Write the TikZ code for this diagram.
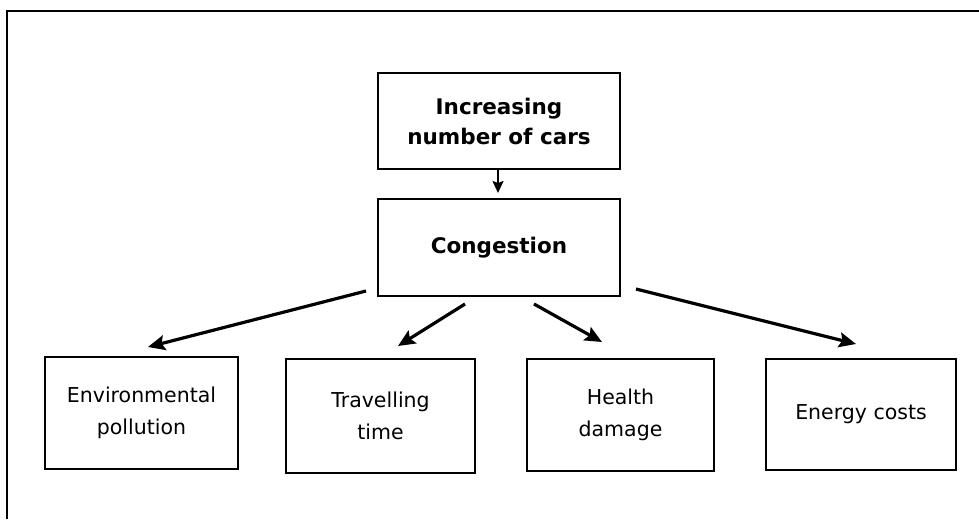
\documentclass[tikz,border=0pt]{standalone}
\usepackage{fontspec}
\setmainfont{DejaVu Sans}
\usetikzlibrary{arrows.meta}
\begin{document}
\begin{tikzpicture}[x=1pt,y=-1pt,
  box/.style={draw=black,line width=2pt,rectangle,inner sep=0pt,align=center,fill=white},
  toptext/.style={font=\fontsize{21.5}{30}\selectfont\bfseries},
  bottext/.style={font=\fontsize{20.5}{32}\selectfont},
  bigarrow/.style={line width=3.2pt,-{Stealth[length=17pt,width=15pt,inset=3pt]}},
  smallarrow/.style={line width=2pt,-{Stealth[length=12pt,width=11pt,inset=2pt]}}]
\useasboundingbox (0,0) rectangle (979,519);
\draw[line width=2.8pt] (7,519) -- (7,11) -- (979,11);
\node[box,toptext,minimum width=242pt,minimum height=96pt] (top) at (499,121) {Increasing\\number of cars};
\node[box,toptext,minimum width=242pt,minimum height=97pt] (cong) at (499,247.5) {Congestion};
\node[box,bottext,minimum width=193pt,minimum height=112pt] (env) at (141.5,413) {Environmental\\pollution};
\node[box,bottext,minimum width=189pt,minimum height=114pt] (trav) at (380.5,416) {Travelling\\time};
\node[box,bottext,minimum width=187pt,minimum height=112pt] (health) at (620.5,415) {Health\\damage};
\node[box,bottext,minimum width=190pt,minimum height=111pt] (energy) at (861,414.5) {Energy costs};
\coordinate (a0s) at (498,169);
\coordinate (a0e) at (498,193);
\coordinate (a1s) at (366,291);
\coordinate (a1e) at (148,347);
\coordinate (a2s) at (465,304);
\coordinate (a2e) at (398,346);
\coordinate (a3s) at (534,304);
\coordinate (a3e) at (602,342);
\coordinate (a4s) at (636,289);
\coordinate (a4e) at (856,344);
\draw[smallarrow] (a0s) -- (a0e);
\draw[bigarrow] (a1s) -- (a1e);
\draw[bigarrow] (a2s) -- (a2e);
\draw[bigarrow] (a3s) -- (a3e);
\draw[bigarrow] (a4s) -- (a4e);
\end{tikzpicture}
\end{document}
